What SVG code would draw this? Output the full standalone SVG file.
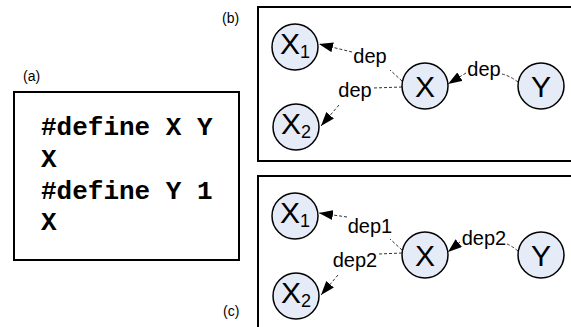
<svg xmlns="http://www.w3.org/2000/svg" width="571" height="327" viewBox="0 0 571 327">
<style>
.frame{fill:none;stroke:#000;stroke-width:2}
.node{fill:#e6ecf7;stroke:#000;stroke-width:1.5}
.nl{font-family:"Liberation Sans",Arial,sans-serif;font-size:30px;fill:#000;text-anchor:middle}
.sub{font-size:18px}
.el{font-family:"Liberation Sans",Arial,sans-serif;font-size:20px;fill:#000;text-anchor:middle}
.edge{fill:none;stroke:#333;stroke-width:1;stroke-dasharray:3,2}
.cap{font-family:"Liberation Sans",Arial,sans-serif;font-size:14px;fill:#000}
.code{font-family:"Liberation Mono","Courier New",monospace;font-weight:bold;font-size:26px;fill:#000}
</style>
<defs>
<marker id="arr" markerUnits="userSpaceOnUse" markerWidth="14" markerHeight="10" refX="14" refY="5" orient="auto">
<path d="M0,0 L14,5 L0,10 z" fill="#000"/>
</marker>
</defs>
<rect width="571" height="327" fill="#fff"/>

<g id="panel-a">
<text class="cap" x="23" y="81">(a)</text>
<rect class="frame" x="14" y="92" width="225" height="168"/>
<text class="code" x="41" y="135">#define X Y</text>
<text class="code" x="41" y="167">X</text>
<text class="code" x="41" y="198.5">#define Y 1</text>
<text class="code" x="41" y="230">X</text>
</g>

<g id="panel-b-frame">
<text class="cap" x="222" y="23">(b)</text>
<rect class="frame" x="258" y="7" width="330" height="154"/>
</g>
<g id="panel-c-frame">
<text class="cap" x="223" y="316">(c)</text>
<rect class="frame" x="258" y="176" width="330" height="170"/>
</g>

<g id="connectors">
<path class="edge" d="M402,81 L390,70"/>
<path class="edge" d="M352,52 L319,44" marker-end="url(#arr)"/>
<path class="edge" d="M402,87 L373,88"/>
<path class="edge" d="M339,105 L321,126" marker-end="url(#arr)"/>
<path class="edge" d="M518,82 Q510,76 502,74"/>
<path class="edge" d="M466,73 L448,84" marker-end="url(#arr)"/>

<path class="edge" d="M402,250 L390,239"/>
<path class="edge" d="M347,217 L319,213" marker-end="url(#arr)"/>
<path class="edge" d="M402,253 L379,254"/>
<path class="edge" d="M338,275 L321,295" marker-end="url(#arr)"/>
<path class="edge" d="M518,251 Q512,246 507,244"/>
<path class="edge" d="M460,242 L448,252" marker-end="url(#arr)"/>

<text class="el" x="370" y="63">dep</text>
<text class="el" x="355" y="97">dep</text>
<text class="el" x="484" y="76">dep</text>
<text class="el" x="370" y="233">dep1</text>
<text class="el" x="355" y="267">dep2</text>
<text class="el" x="484" y="245">dep2</text>
</g>

<g id="b-X1"><circle class="node" cx="295" cy="47" r="23"/><text class="nl" x="295" y="54">X<tspan class="sub" dy="4">1</tspan></text></g>
<g id="b-X2"><circle class="node" cx="296" cy="127" r="23"/><text class="nl" x="296" y="134">X<tspan class="sub" dy="4">2</tspan></text></g>
<g id="b-X"><circle class="node" cx="425" cy="86" r="23"/><text class="nl" x="425" y="97">X</text></g>
<g id="b-Y"><circle class="node" cx="541" cy="86" r="23"/><text class="nl" x="541" y="97">Y</text></g>

<g id="c-X1"><circle class="node" cx="295" cy="216" r="23"/><text class="nl" x="295" y="223">X<tspan class="sub" dy="4">1</tspan></text></g>
<g id="c-X2"><circle class="node" cx="296" cy="296" r="23"/><text class="nl" x="296" y="303">X<tspan class="sub" dy="4">2</tspan></text></g>
<g id="c-X"><circle class="node" cx="425" cy="255" r="23"/><text class="nl" x="425" y="266">X</text></g>
<g id="c-Y"><circle class="node" cx="541" cy="255" r="23"/><text class="nl" x="541" y="266">Y</text></g>
</svg>
